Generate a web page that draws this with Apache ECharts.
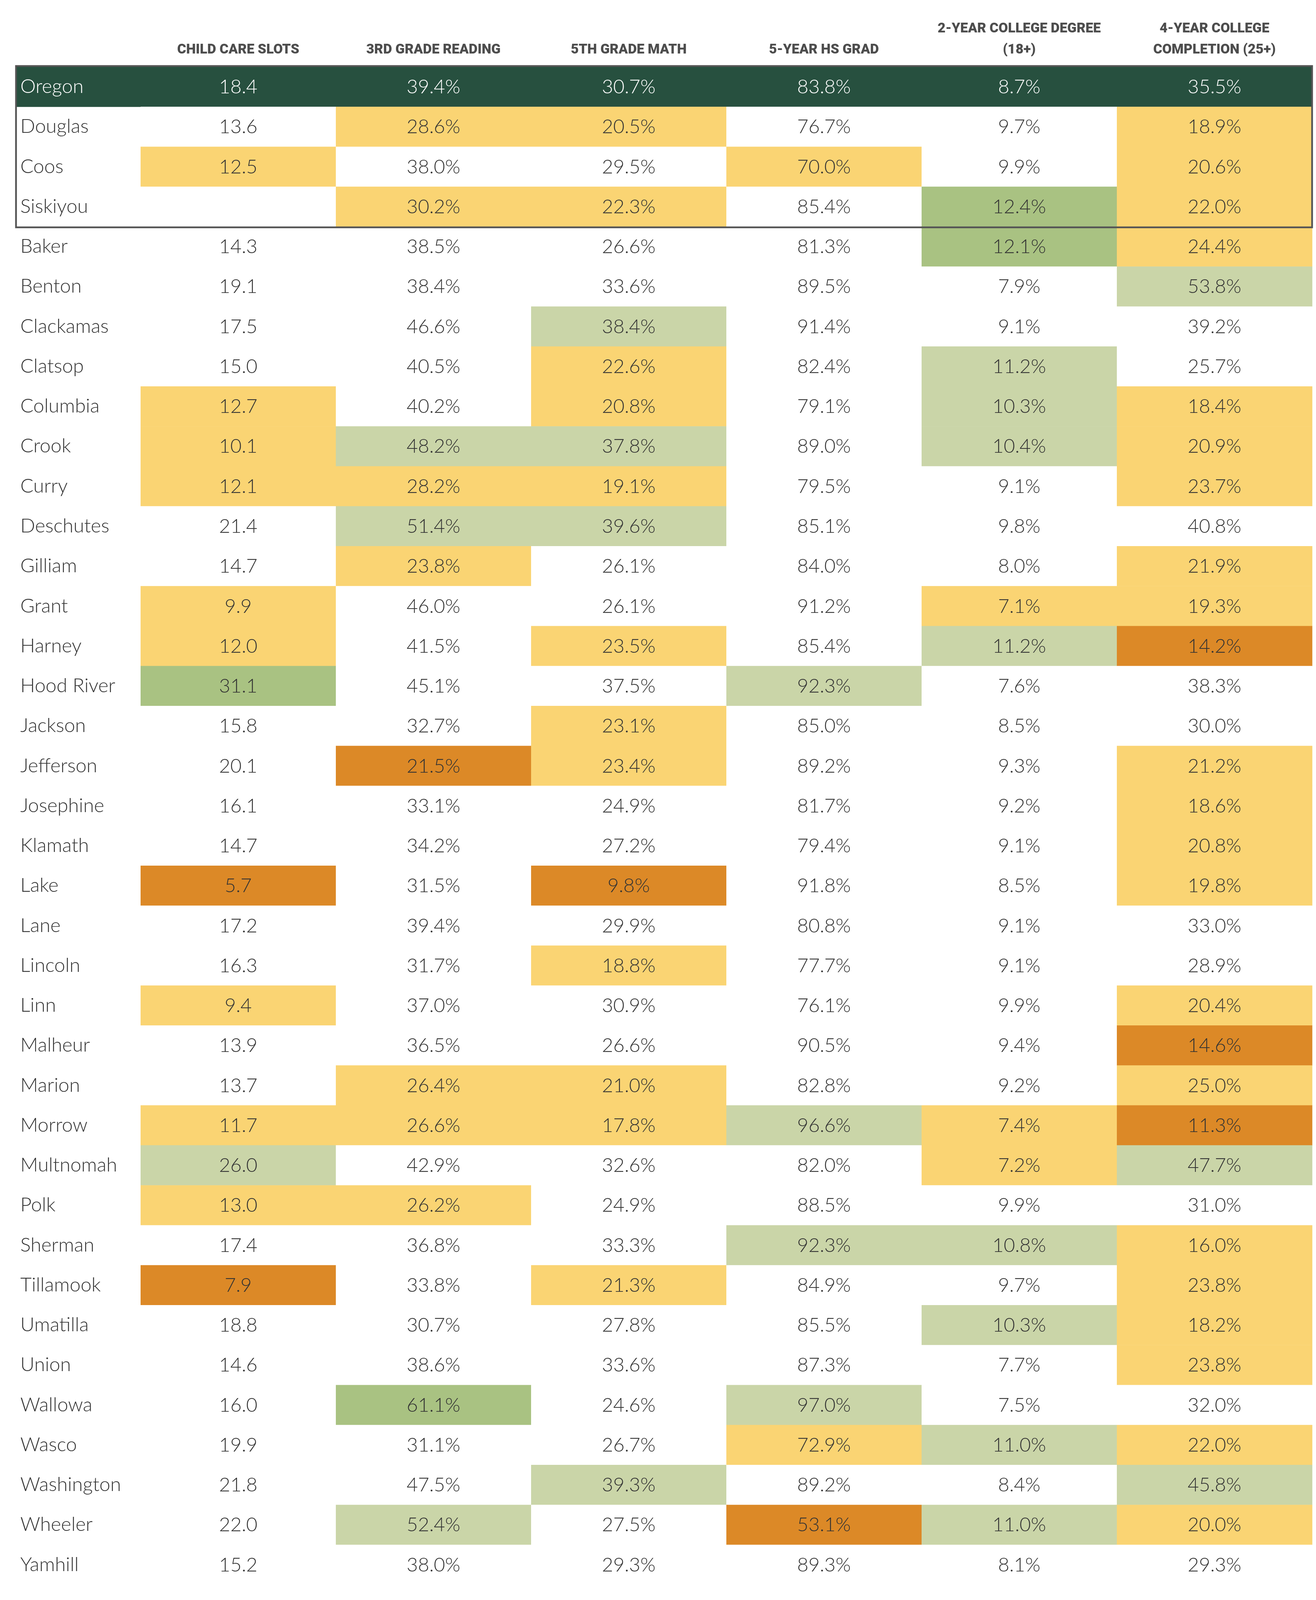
<!DOCTYPE html>
<html>
<head>
<meta charset="utf-8">
<script src="https://cdn.jsdelivr.net/npm/echarts@6/dist/echarts.min.js"></script>
<style>
html,body{margin:0;padding:0;background:#ffffff;overflow:hidden;}
#chart{width:3370px;height:4170px;}
</style>
</head>
<body>
<div id="chart"></div>
<script>
// ---------- DATA ----------
const COLUMNS = [
  'CHILD CARE SLOTS',
  '3RD GRADE READING',
  '5TH GRADE MATH',
  '5-YEAR HS GRAD',
  '2-YEAR COLLEGE DEGREE\n(18+)',
  '4-YEAR COLLEGE\nCOMPLETION (25+)'
];

const COUNTIES = ['Oregon','Douglas','Coos','Siskiyou','Baker','Benton','Clackamas','Clatsop','Columbia','Crook',
  'Curry','Deschutes','Gilliam','Grant','Harney','Hood River','Jackson','Jefferson','Josephine','Klamath',
  'Lake','Lane','Lincoln','Linn','Malheur','Marion','Morrow','Multnomah','Polk','Sherman',
  'Tillamook','Umatilla','Union','Wallowa','Wasco','Washington','Wheeler','Yamhill'];

const childCare = [18.4,13.6,12.5,null,14.3,19.1,17.5,15.0,12.7,10.1,12.1,21.4,14.7,9.9,12.0,31.1,15.8,20.1,16.1,14.7,5.7,17.2,16.3,9.4,13.9,13.7,11.7,26.0,13.0,17.4,7.9,18.8,14.6,16.0,19.9,21.8,22.0,15.2];
const reading3 = [39.4,28.6,38.0,30.2,38.5,38.4,46.6,40.5,40.2,48.2,28.2,51.4,23.8,46.0,41.5,45.1,32.7,21.5,33.1,34.2,31.5,39.4,31.7,37.0,36.5,26.4,26.6,42.9,26.2,36.8,33.8,30.7,38.6,61.1,31.1,47.5,52.4,38.0];
const math5 = [30.7,20.5,29.5,22.3,26.6,33.6,38.4,22.6,20.8,37.8,19.1,39.6,26.1,26.1,23.5,37.5,23.1,23.4,24.9,27.2,9.8,29.9,18.8,30.9,26.6,21.0,17.8,32.6,24.9,33.3,21.3,27.8,33.6,24.6,26.7,39.3,27.5,29.3];
const hsGrad = [83.8,76.7,70.0,85.4,81.3,89.5,91.4,82.4,79.1,89.0,79.5,85.1,84.0,91.2,85.4,92.3,85.0,89.2,81.7,79.4,91.8,80.8,77.7,76.1,90.5,82.8,96.6,82.0,88.5,92.3,84.9,85.5,87.3,97.0,72.9,89.2,53.1,89.3];
const college2 = [8.7,9.7,9.9,12.4,12.1,7.9,9.1,11.2,10.3,10.4,9.1,9.8,8.0,7.1,11.2,7.6,8.5,9.3,9.2,9.1,8.5,9.1,9.1,9.9,9.4,9.2,7.4,7.2,9.9,10.8,9.7,10.3,7.7,7.5,11.0,8.4,11.0,8.1];
const college4 = [35.5,18.9,20.6,22.0,24.4,53.8,39.2,25.7,18.4,20.9,23.7,40.8,21.9,19.3,14.2,38.3,30.0,21.2,18.6,20.8,19.8,33.0,28.9,20.4,14.6,25.0,11.3,47.7,31.0,16.0,23.8,18.2,23.8,32.0,22.0,45.8,20.0,29.3];

// cell class per column: S = state row, w = none, y = yellow, O = orange, L = light green, G = green
const childCareClass = ['S','w','y','w','w','w','w','w','y','y','y','w','w','y','y','G','w','w','w','w','O','w','w','y','w','w','y','L','y','w','O','w','w','w','w','w','w','w'];
const reading3Class  = ['S','y','w','y','w','w','w','w','w','L','y','L','y','w','w','w','w','O','w','w','w','w','w','w','w','y','y','w','y','w','w','w','w','G','w','w','L','w'];
const math5Class     = ['S','y','w','y','w','w','L','y','y','L','y','L','w','w','y','w','y','y','w','w','O','w','y','w','w','y','y','w','w','w','y','w','w','w','w','L','w','w'];
const hsGradClass    = ['S','w','y','w','w','w','w','w','w','w','w','w','w','w','w','L','w','w','w','w','w','w','w','w','w','w','L','w','w','L','w','w','w','L','y','w','O','w'];
const college2Class  = ['S','w','w','G','G','w','w','L','L','L','w','w','w','y','L','w','w','w','w','w','w','w','w','w','w','w','y','y','w','L','w','L','w','w','L','w','L','w'];
const college4Class  = ['S','y','y','y','y','L','w','w','y','y','y','w','y','y','O','w','w','y','y','y','y','w','w','y','O','y','O','L','w','y','y','y','y','w','y','L','y','w'];

const BOXED_ROWS = 4; // Oregon + three comparison counties

// ---------- STYLE ----------
const FILL = { S:'#27503F', w:'#FFFFFF', y:'#FAD473', O:'#DC8927', L:'#CAD5A8', G:'#A9C282' };
const LABEL_W = 319;
const FONT = 'Lato, "Open Sans", sans-serif';
const VALUE_SIZE = 50;

// fit the full table into the visible viewport height
const FULL_H = 4170;
const H = Math.min(window.innerHeight || FULL_H, FULL_H);
const SY = H / FULL_H;
const el = document.getElementById('chart');
el.style.height = H + 'px';

const valueCols = [childCare, reading3, math5, hsGrad, college2, college4];
const classCols = [childCareClass, reading3Class, math5Class, hsGradClass, college2Class, college4Class];

const cells = [];
valueCols.forEach((col, ci) => {
  col.forEach((v, ri) => {
    const txt = v == null ? '' : (ci === 0 ? v.toFixed(1) : v.toFixed(1) + '%');
    cells.push({ value: [ci, ri, v == null ? '-' : v], cls: classCols[ci][ri], txt: txt });
  });
});

const chart = echarts.init(el, null, { renderer: 'canvas' });

chart.setOption({
  backgroundColor: '#ffffff',
  animation: false,
  grid: { left: 360, right: 10, top: 174 * SY, bottom: 40 * SY, containLabel: false },
  xAxis: {
    type: 'category',
    data: COLUMNS,
    position: 'top',
    axisLine: { show: false },
    axisTick: { show: false },
    splitLine: { show: false },
    axisLabel: {
      interval: 0,
      margin: 16 * SY,
      color: '#4d4d4d',
      fontFamily: 'Roboto, sans-serif',
      fontWeight: 900,
      fontSize: 35,
      lineHeight: 55 * SY,
      align: 'center'
    }
  },
  yAxis: {
    type: 'category',
    data: COUNTIES,
    inverse: true,
    z: 10,
    axisLine: { show: false },
    axisTick: { show: false },
    splitLine: { show: false },
    axisLabel: {
      interval: 0,
      align: 'left',
      margin: 308,
      fontFamily: FONT,
      fontWeight: 300,
      fontSize: VALUE_SIZE,
      color: (val) => val === 'Oregon' ? '#FFFFFF' : '#333333'
    }
  },
  series: [
    {
      type: 'custom',
      z: 2,
      data: cells,
      encode: { x: 0, y: 1 },
      renderItem: function (params, api) {
        const cell = cells[params.dataIndex];
        const c = api.coord([api.value(0), api.value(1)]);
        const s = api.size([1, 1]);
        const children = [];
        children.push({
          type: 'rect',
          shape: { x: c[0] - s[0] / 2, y: c[1] - s[1] / 2, width: s[0] + 0.6, height: s[1] + 0.6 },
          style: { fill: FILL[cell.cls] }
        });
        if (cell.cls === 'S' && api.value(0) === 0) {
          children.push({
            type: 'rect',
            shape: { x: c[0] - s[0] / 2 - LABEL_W, y: c[1] - s[1] / 2, width: LABEL_W + 1, height: s[1] + 0.6 },
            style: { fill: FILL.S }
          });
        }
        children.push({
          type: 'text',
          style: {
            text: cell.txt,
            x: c[0], y: c[1] + 1,
            align: 'center', verticalAlign: 'middle',
            textAlign: 'center', textVerticalAlign: 'middle',
            font: '300 ' + VALUE_SIZE + 'px ' + FONT,
            fill: cell.cls === 'S' ? '#FFFFFF' : '#333333'
          }
        });
        return { type: 'group', children: children };
      }
    },
    {
      type: 'custom',
      z: 20,
      data: [[0, 0]],
      encode: { x: 0, y: 1 },
      renderItem: function (params, api) {
        const a = api.coord([0, 0]);
        const b = api.coord([COLUMNS.length - 1, BOXED_ROWS - 1]);
        const s = api.size([1, 1]);
        const x0 = a[0] - s[0] / 2 - LABEL_W;
        const y0 = a[1] - s[1] / 2 - 2;
        const x1 = b[0] + s[0] / 2;
        const y1 = b[1] + s[1] / 2 + 2;
        return {
          type: 'rect',
          shape: { x: x0, y: y0, width: x1 - x0, height: y1 - y0 },
          style: { fill: 'none', stroke: '#555555', lineWidth: 4.5 }
        };
      }
    }
  ]
});
</script>
</body>
</html>
